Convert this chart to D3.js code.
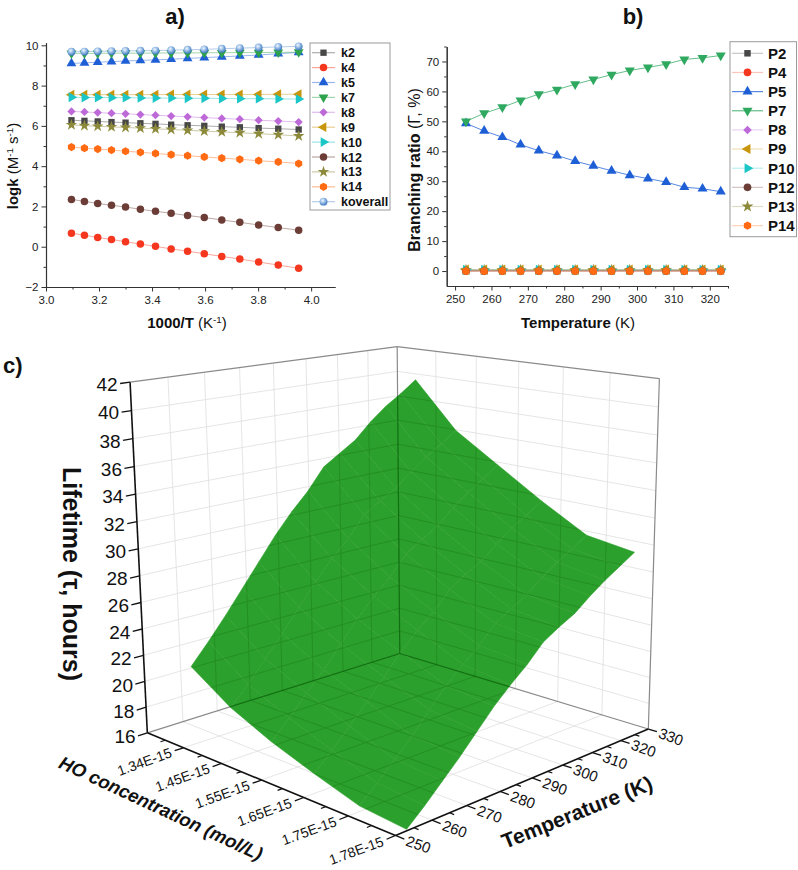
<!DOCTYPE html>
<html>
<head>
<meta charset="utf-8">
<script src="https://cdn.jsdelivr.net/npm/d3@7"></script>
<style>
  body { margin: 0; background: #fff; }
  svg { display: block; font-family: "Liberation Sans", Arial, sans-serif; }
</style>
</head>
<body>
<script>
// ---------- data: panel a (logk vs 1000/T) ----------
const invT = [3.096, 3.145, 3.195, 3.247, 3.300, 3.356, 3.413, 3.472, 3.534, 3.597, 3.663, 3.731, 3.802, 3.876, 3.953];
const k2 = [6.28, 6.25, 6.22, 6.19, 6.16, 6.13, 6.10, 6.06, 6.03, 6.00, 5.96, 5.93, 5.89, 5.86, 5.82];
const k4 = [0.67, 0.57, 0.46, 0.36, 0.25, 0.13, 0.02, -0.11, -0.22, -0.35, -0.48, -0.61, -0.76, -0.91, -1.07];
const k5 = [9.10, 9.13, 9.16, 9.19, 9.22, 9.25, 9.28, 9.31, 9.35, 9.39, 9.43, 9.47, 9.52, 9.58, 9.65];
const k7 = [9.60, 9.60, 9.60, 9.61, 9.61, 9.61, 9.62, 9.62, 9.62, 9.63, 9.63, 9.64, 9.64, 9.65, 9.66];
const k8 = [6.72, 6.69, 6.66, 6.63, 6.60, 6.56, 6.53, 6.49, 6.45, 6.41, 6.37, 6.33, 6.28, 6.24, 6.19];
const k9 = [7.55, 7.55, 7.55, 7.55, 7.55, 7.55, 7.55, 7.56, 7.56, 7.56, 7.56, 7.56, 7.56, 7.57, 7.57];
const k10 = [7.42, 7.41, 7.41, 7.40, 7.40, 7.39, 7.38, 7.38, 7.37, 7.37, 7.36, 7.35, 7.35, 7.34, 7.33];
const k12 = [2.35, 2.25, 2.15, 2.06, 1.97, 1.86, 1.76, 1.66, 1.55, 1.45, 1.33, 1.21, 1.08, 0.95, 0.82];
const k13 = [6.05, 6.01, 5.98, 5.95, 5.92, 5.89, 5.85, 5.82, 5.78, 5.74, 5.70, 5.66, 5.61, 5.56, 5.50];
const k14 = [4.95, 4.89, 4.85, 4.80, 4.74, 4.69, 4.63, 4.57, 4.52, 4.46, 4.40, 4.34, 4.27, 4.21, 4.13];
const koverall = [9.68, 9.69, 9.70, 9.71, 9.72, 9.73, 9.74, 9.76, 9.78, 9.80, 9.83, 9.86, 9.89, 9.92, 9.95];

// ---------- data: panel b (branching ratio vs T) ----------
const tempB = [253, 258, 263, 268, 273, 278, 283, 288, 293, 298, 303, 308, 313, 318, 323];
const P2 = [0.1, 0.1, 0.1, 0.1, 0.1, 0.1, 0.1, 0.1, 0.1, 0.1, 0.1, 0.1, 0.1, 0.1, 0.1];
const P4 = [0, 0, 0, 0, 0, 0, 0, 0, 0, 0, 0, 0, 0, 0, 0];
const P5 = [49.3, 46.8, 44.7, 42.2, 40.2, 38.6, 36.7, 35.1, 33.5, 32.0, 30.9, 29.7, 28.0, 27.5, 26.5];
const P7 = [50.0, 52.7, 54.7, 57.0, 59.1, 60.6, 62.4, 64.0, 65.6, 67.0, 68.0, 69.1, 70.7, 71.2, 72.0];
const P8 = [0.3, 0.3, 0.3, 0.3, 0.3, 0.3, 0.3, 0.3, 0.3, 0.3, 0.3, 0.3, 0.3, 0.3, 0.3];
const P9 = [0.5, 0.5, 0.5, 0.5, 0.5, 0.5, 0.5, 0.5, 0.5, 0.5, 0.5, 0.5, 0.5, 0.5, 0.5];
const P10 = [0.4, 0.4, 0.4, 0.4, 0.4, 0.4, 0.4, 0.4, 0.4, 0.4, 0.4, 0.4, 0.4, 0.4, 0.4];
const P12 = [0, 0, 0, 0, 0, 0, 0, 0, 0, 0, 0, 0, 0, 0, 0];
const P13 = [0.3, 0.3, 0.3, 0.3, 0.3, 0.3, 0.3, 0.3, 0.3, 0.3, 0.3, 0.3, 0.3, 0.3, 0.3];
const P14 = [0, 0, 0, 0, 0, 0, 0, 0, 0, 0, 0, 0, 0, 0, 0];

// ---------- data: panel c (lifetime surface) ----------
const hoLabels = ['1.34E-15', '1.45E-15', '1.55E-15', '1.65E-15', '1.75E-15', '1.78E-15'];
const hoIndex = [1, 2, 3, 4, 5, 6];
const tempC = [253, 258, 263, 268, 273, 278, 283, 288, 293, 298, 303, 308, 313, 318, 323];
const lifetime = [
  [21.9, 23.4, 25.0, 26.7, 28.4, 30.1, 31.6, 32.9, 34.5, 35.3, 36.1, 37.3, 38.3, 39.1, 40.0],
  [19.9, 21.2, 22.7, 24.2, 25.8, 27.4, 28.8, 30.0, 31.5, 32.3, 33.0, 34.0, 34.9, 35.7, 36.5],
  [18.5, 19.8, 21.2, 22.5, 24.0, 25.5, 26.8, 27.9, 29.3, 30.1, 30.8, 31.9, 32.8, 33.6, 34.4],
  [17.4, 18.6, 19.9, 21.2, 22.6, 24.0, 25.2, 26.2, 27.5, 28.3, 28.9, 29.9, 30.8, 31.5, 32.3],
  [16.4, 17.5, 18.7, 19.9, 21.3, 22.6, 23.7, 24.7, 25.9, 26.6, 27.3, 28.2, 29.0, 29.7, 30.4],
  [16.1, 17.2, 18.4, 19.6, 20.9, 22.2, 23.3, 24.3, 25.5, 26.2, 26.8, 27.7, 28.5, 29.2, 29.9]
];

const svg = d3.select('body').append('svg')
  .attr('width', 798)
  .attr('height', 870);

// koverall sphere look
const defs = svg.append('defs');
const grad = defs.append('radialGradient').attr('id', 'ball')
  .attr('cx', '40%').attr('cy', '35%').attr('r', '65%');
grad.append('stop').attr('offset', '0%').attr('stop-color', '#f4f8ff');
grad.append('stop').attr('offset', '45%').attr('stop-color', '#9cc0e8');
grad.append('stop').attr('offset', '100%').attr('stop-color', '#3e78c0');

// custom hexagon marker
const symbolHex = {
  draw(ctx, size) {
    const r = Math.sqrt(size / 2.598);
    for (let i = 0; i < 6; i++) {
      const a = Math.PI / 3 * i + Math.PI / 6;
      const x = r * Math.cos(a), y = r * Math.sin(a);
      if (i) ctx.lineTo(x, y); else ctx.moveTo(x, y);
    }
    ctx.closePath();
  }
};

const shapes = {
  square: { type: d3.symbolSquare, rot: 0, size: 40 },
  circle: { type: d3.symbolCircle, rot: 0, size: 44 },
  up: { type: d3.symbolTriangle, rot: 0, size: 42 },
  down: { type: d3.symbolTriangle, rot: 180, size: 42 },
  diamond: { type: d3.symbolSquare, rot: 45, size: 34 },
  left: { type: d3.symbolTriangle, rot: -90, size: 42 },
  right: { type: d3.symbolTriangle, rot: 90, size: 42 },
  star: { type: d3.symbolStar, rot: 0, size: 42 },
  hex: { type: symbolHex, rot: 0, size: 44 },
  ball: { type: d3.symbolCircle, rot: 0, size: 48 }
};

function marker(g, shape, color, x, y, scale) {
  const s = shapes[shape];
  g.append('path')
    .attr('d', d3.symbol(s.type, s.size * (scale || 1))())
    .attr('transform', `translate(${x},${y}) rotate(${s.rot})`)
    .attr('fill', shape === 'ball' ? 'url(#ball)' : color);
}

function styleAxis(g) {
  g.selectAll('path').attr('stroke', '#333').attr('stroke-width', 1.1);
  g.selectAll('line').attr('stroke', '#333').attr('stroke-width', 1);
  g.selectAll('text').attr('fill', '#222').style('font-size', '11.5px');
}

function drawPanel(cfg) {
  const g = svg.append('g');
  const x = cfg.x, y = cfg.y;

  // minor ticks
  g.append('g').attr('transform', `translate(0,${y.range()[0]})`)
    .call(d3.axisBottom(x).tickValues(cfg.xMinor).tickSize(2.5).tickSizeOuter(0).tickFormat(''))
    .call(styleAxis);
  g.append('g').attr('transform', `translate(${x.range()[0]},0)`)
    .call(d3.axisLeft(y).tickValues(cfg.yMinor).tickSize(2.5).tickSizeOuter(0).tickFormat(''))
    .call(styleAxis);
  // major ticks
  g.append('g').attr('transform', `translate(0,${y.range()[0]})`)
    .call(d3.axisBottom(x).tickValues(cfg.xTicks).tickSize(4.5).tickPadding(4).tickSizeOuter(0).tickFormat(cfg.xFmt))
    .call(styleAxis);
  g.append('g').attr('transform', `translate(${x.range()[0]},0)`)
    .call(d3.axisLeft(y).tickValues(cfg.yTicks).tickSize(4.5).tickPadding(3).tickSizeOuter(0))
    .call(styleAxis);

  // series: lines then markers
  cfg.series.forEach(s => {
    const pts = cfg.xs.map((xv, i) => [x(xv), y(s.values[i])]);
    g.append('path')
      .attr('d', d3.line()(pts))
      .attr('fill', 'none')
      .attr('stroke', s.color)
      .attr('stroke-opacity', s.lineOpacity || 0.45)
      .attr('stroke-width', 1);
  });
  cfg.series.forEach(s => {
    cfg.xs.forEach((xv, i) => marker(g, s.shape, s.color, x(xv), y(s.values[i]), cfg.mScale));
  });

  // legend
  const L = cfg.legend;
  const lg = svg.append('g');
  lg.append('rect')
    .attr('x', L.x).attr('y', L.y).attr('width', L.w).attr('height', L.h)
    .attr('fill', '#fff').attr('stroke', '#9a9a9a').attr('stroke-width', 1);
  cfg.series.forEach((s, i) => {
    const yy = L.y0 + i * L.dy;
    lg.append('line')
      .attr('x1', L.lx1).attr('x2', L.lx2).attr('y1', yy).attr('y2', yy)
      .attr('stroke', s.color).attr('stroke-opacity', s.lineOpacity || 0.45).attr('stroke-width', 1.2);
    marker(lg, s.shape, s.color, (L.lx1 + L.lx2) / 2, yy, cfg.mScale);
    lg.append('text')
      .attr('x', L.tx).attr('y', yy).attr('dy', '0.36em')
      .style('font-size', L.fs + 'px').style('font-weight', 'bold')
      .attr('fill', '#111')
      .text(s.name);
  });
  return g;
}

// ---------- panel a ----------
const xa = d3.scaleLinear().domain([3.0, 4.09]).range([46, 335]);
const ya = d3.scaleLinear().domain([-2, 10.13]).range([287, 42.7]);
drawPanel({
  x: xa, y: ya, xs: invT,
  xTicks: [3.0, 3.2, 3.4, 3.6, 3.8, 4.0], xMinor: [3.1, 3.3, 3.5, 3.7, 3.9],
  xFmt: d3.format('.1f'),
  yTicks: [-2, 0, 2, 4, 6, 8, 10], yMinor: [-1, 1, 3, 5, 7, 9],
  mScale: 1,
  series: [
    { name: 'k2', values: k2, color: '#474747', shape: 'square' },
    { name: 'k4', values: k4, color: '#f5371f', shape: 'circle' },
    { name: 'k5', values: k5, color: '#1f5fd6', shape: 'up' },
    { name: 'k7', values: k7, color: '#2fa34c', shape: 'down' },
    { name: 'k8', values: k8, color: '#bd6ad8', shape: 'diamond' },
    { name: 'k9', values: k9, color: '#c8960c', shape: 'left' },
    { name: 'k10', values: k10, color: '#1cc6c6', shape: 'right' },
    { name: 'k12', values: k12, color: '#6b3d36', shape: 'circle' },
    { name: 'k13', values: k13, color: '#8c8a3a', shape: 'star' },
    { name: 'k14', values: k14, color: '#ff6a13', shape: 'hex' },
    { name: 'koverall', values: koverall, color: '#5a90cf', shape: 'ball' }
  ],
  legend: { x: 310, y: 43, w: 80, h: 167, y0: 52.7, dy: 14.9, lx1: 312, lx2: 335, tx: 341, fs: 12.5 }
});

// ---------- panel b ----------
const xb = d3.scaleLinear().domain([247.7, 325]).range([446.7, 728]);
const yb = d3.scaleLinear().domain([-5, 75]).range([286, 46.5]);
drawPanel({
  x: xb, y: yb, xs: tempB,
  xTicks: d3.range(250, 321, 10), xMinor: d3.range(255, 326, 10),
  xFmt: d3.format('d'),
  yTicks: d3.range(0, 71, 10), yMinor: d3.range(5, 76, 10),
  mScale: 1.05,
  series: [
    { name: 'P2', values: P2, color: '#474747', shape: 'square', lineOpacity: 0.3 },
    { name: 'P4', values: P4, color: '#f5371f', shape: 'circle', lineOpacity: 0.3 },
    { name: 'P5', values: P5, color: '#1f5fd6', shape: 'up', lineOpacity: 0.75 },
    { name: 'P7', values: P7, color: '#2fa860', shape: 'down', lineOpacity: 0.75 },
    { name: 'P8', values: P8, color: '#bd6ad8', shape: 'diamond', lineOpacity: 0.3 },
    { name: 'P9', values: P9, color: '#c8960c', shape: 'left', lineOpacity: 0.3 },
    { name: 'P10', values: P10, color: '#1cc6c6', shape: 'right', lineOpacity: 0.3 },
    { name: 'P12', values: P12, color: '#6b3d36', shape: 'circle', lineOpacity: 0.3 },
    { name: 'P13', values: P13, color: '#8c8a3a', shape: 'star', lineOpacity: 0.3 },
    { name: 'P14', values: P14, color: '#ff6a13', shape: 'hex', lineOpacity: 0.3 }
  ],
  legend: { x: 730, y: 41.7, w: 66.5, h: 195, y0: 53.3, dy: 19.15, lx1: 732, lx2: 763, tx: 768, fs: 15 }
});

// panel titles and axis titles (a, b)
function label(x, y, size, parts, rotate, anchor) {
  const t = svg.append('text')
    .attr('transform', `translate(${x},${y})` + (rotate ? ` rotate(${rotate})` : ''))
    .attr('text-anchor', anchor || 'middle')
    .style('font-size', size + 'px')
    .attr('fill', '#111');
  parts.forEach(p => {
    const ts = t.append('tspan').text(p.t);
    if (p.b) ts.style('font-weight', 'bold');
    if (p.i) ts.style('font-style', 'italic');
    if (p.sup) ts.attr('baseline-shift', 'super').style('font-size', (size * 0.65) + 'px');
  });
  return t;
}
label(175, 24, 22, [{ t: 'a)', b: 1 }]);
label(633, 24, 22, [{ t: 'b)', b: 1 }]);
label(3, 373, 22, [{ t: 'c)', b: 1 }], 0, 'start');
label(187, 328, 15, [{ t: '1000/T', b: 1 }, { t: ' (K' }, { t: '-1', sup: 1 }, { t: ')' }]);
label(18, 166, 15, [{ t: 'logk', b: 1 }, { t: ' (M' }, { t: '-1', sup: 1 }, { t: ' s' }, { t: '-1', sup: 1 }, { t: ')' }], -90);
label(578, 328, 15, [{ t: 'Temperature', b: 1 }, { t: ' (K)' }]);
label(420, 170, 16, [{ t: 'Branching ratio', b: 1 }, { t: ' (Γ, %)' }], -90);

// ---------- panel c: perspective 3D box ----------
// screen anchors of the box corners (u = HO, v = T, w = lifetime, each 0..1)
const boxAnchors = [
  [0, 0, 0, 147, 732.5],
  [1, 0, 0, 396, 835.5],
  [1, 1, 0, 648, 729.3],
  [0, 1, 0, 400, 653.5],
  [0, 0, 1, 130, 382.5],
  [0, 1, 1, 397.3, 346.7],
  [1, 1, 1, 659.3, 378.3]
];

// direct linear transform fit of a 3x4 camera matrix
function solveDLT(pts) {
  const A = [], b = [];
  pts.forEach(([X, Y, Z, x, y]) => {
    A.push([X, Y, Z, 1, 0, 0, 0, 0, -x * X, -x * Y, -x * Z]); b.push(x);
    A.push([0, 0, 0, 0, X, Y, Z, 1, -y * X, -y * Y, -y * Z]); b.push(y);
  });
  const n = 11, M = [];
  for (let i = 0; i < n; i++) {
    const row = [];
    for (let j = 0; j < n; j++) {
      let s = 0;
      for (let r = 0; r < A.length; r++) s += A[r][i] * A[r][j];
      row.push(s);
    }
    let s = 0;
    for (let r = 0; r < A.length; r++) s += A[r][i] * b[r];
    row.push(s);
    M.push(row);
  }
  for (let c = 0; c < n; c++) {
    let p = c;
    for (let r = c + 1; r < n; r++) if (Math.abs(M[r][c]) > Math.abs(M[p][c])) p = r;
    [M[c], M[p]] = [M[p], M[c]];
    for (let r = 0; r < n; r++) {
      if (r === c) continue;
      const f = M[r][c] / M[c][c];
      for (let k = c; k <= n; k++) M[r][k] -= f * M[c][k];
    }
  }
  return M.map((row, i) => row[n] / row[i]);
}
const P = solveDLT(boxAnchors);
function proj(u, v, w) {
  const d = P[8] * u + P[9] * v + P[10] * w + 1;
  return [(P[0] * u + P[1] * v + P[2] * w + P[3]) / d, (P[4] * u + P[5] * v + P[6] * w + P[7]) / d, d];
}

const su = d3.scaleLinear().domain([0, 6]).range([0, 1]);
const sv = d3.scaleLinear().domain([250, 330]).range([0, 1]);
const sw = d3.scaleLinear().domain([16, 42]).range([0, 1]);
const zTicks = d3.range(16, 43, 2);
const tTicks = d3.range(250, 331, 10);

const gc = svg.append('g');

function seg(g, a, b, color, width) {
  const p = proj(...a), q = proj(...b);
  return g.append('line')
    .attr('x1', p[0]).attr('y1', p[1]).attr('x2', q[0]).attr('y2', q[1])
    .attr('stroke', color).attr('stroke-width', width);
}

function gridLines(g, color, width) {
  tTicks.slice(1, -1).forEach(t => {
    seg(g, [0, sv(t), 0], [0, sv(t), 1], color, width);
    seg(g, [0, sv(t), 0], [1, sv(t), 0], color, width);
  });
  hoIndex.slice(0, -1).forEach(i => {
    seg(g, [su(i), 1, 0], [su(i), 1, 1], color, width);
    seg(g, [su(i), 0, 0], [su(i), 1, 0], color, width);
  });
  zTicks.slice(1, -1).forEach(z => {
    seg(g, [0, 0, sw(z)], [0, 1, sw(z)], color, width);
    seg(g, [0, 1, sw(z)], [1, 1, sw(z)], color, width);
  });
}
function backEdges(g, color, width) {
  seg(g, [0, 0, 1], [0, 1, 1], color, width);
  seg(g, [0, 1, 1], [1, 1, 1], color, width);
  seg(g, [0, 1, 0], [0, 1, 1], color, width);
  seg(g, [1, 1, 0], [1, 1, 1], color, width);
  seg(g, [0, 0, 0], [0, 1, 0], color, width);
  seg(g, [0, 1, 0], [1, 1, 0], color, width);
}

gridLines(gc.append('g'), '#dedede', 0.8);
backEdges(gc.append('g'), '#8a8a8a', 1.2);

// surface quads, far to near
const quads = [];
for (let i = 0; i < hoIndex.length - 1; i++) {
  for (let j = 0; j < tempC.length - 1; j++) {
    const c = [[i, j], [i + 1, j], [i + 1, j + 1], [i, j + 1]]
      .map(([a, b]) => proj(su(hoIndex[a]), sv(tempC[b]), sw(lifetime[a][b])));
    quads.push({ pts: c.map(p => [p[0], p[1]]), d: d3.mean(c, p => p[2]) });
  }
}
const farSign = proj(0, 1, 0)[2] > proj(1, 0, 0)[2] ? 1 : -1;
quads.sort((a, b) => farSign * (b.d - a.d));
const quadPath = q => 'M' + q.pts.map(p => p.join(',')).join('L') + 'Z';

const clip = defs.append('clipPath').attr('id', 'surfClip');
quads.forEach(q => clip.append('path').attr('d', quadPath(q)));

const surf = gc.append('g').attr('opacity', 0.88);
quads.forEach(q => {
  surf.append('path')
    .attr('d', quadPath(q))
    .attr('fill', 'rgb(15,147,15)')
    .attr('stroke', 'rgb(15,147,15)')
    .attr('stroke-width', 0.6)
    .attr('stroke-linejoin', 'round');
});
// grid seen through the translucent surface
const seen = gc.append('g').attr('clip-path', 'url(#surfClip)');
gridLines(seen.append('g').attr('opacity', 0.18), '#0b4f0b', 0.9);
backEdges(seen.append('g').attr('opacity', 0.5), '#0b4f0b', 1.2);

// front axes
const ax = gc.append('g');
seg(ax, [0, 0, 0], [0, 0, 1], '#111', 1.6);
seg(ax, [0, 0, 0], [1, 0, 0], '#111', 1.6);
seg(ax, [1, 0, 0], [1, 1, 0], '#111', 1.6);

// lifetime axis
zTicks.forEach(z => {
  seg(ax, [0, 0, sw(z)], [0, -0.032, sw(z)], '#111', 1.3);
  const p = proj(0, -0.04, sw(z));
  ax.append('text')
    .attr('x', p[0]).attr('y', p[1]).attr('dy', '0.36em')
    .attr('text-anchor', 'end')
    .style('font-size', '19px').attr('fill', '#111')
    .text(z);
});
// HO axis
hoIndex.forEach(i => {
  if (i > 0) seg(ax, [su(i - 0.5), 0, 0], [su(i - 0.5), -0.016, 0], '#111', 1.2);
  seg(ax, [su(i), 0, 0], [su(i), -0.03, 0], '#111', 1.3);
});
hoLabels.forEach((lab, k) => {
  const p = proj(su(hoIndex[k]), -0.042, 0);
  ax.append('text')
    .attr('transform', `translate(${p[0]},${p[1]}) rotate(-20)`)
    .attr('dy', '0.36em')
    .attr('text-anchor', 'end')
    .style('font-size', '14px').attr('fill', '#111')
    .text(lab);
});
// temperature axis
d3.range(255, 331, 10).forEach(t => seg(ax, [1, sv(t), 0], [1.016, sv(t), 0], '#111', 1.2));
tTicks.forEach(t => {
  seg(ax, [1, sv(t), 0], [1.03, sv(t), 0], '#111', 1.3);
  const p = proj(1.038, sv(t), 0);
  ax.append('text')
    .attr('transform', `translate(${p[0]},${p[1]}) rotate(20)`)
    .attr('dy', '0.36em')
    .style('font-size', '15px').attr('fill', '#111')
    .text(t);
});

// 3D axis titles
label(72, 574, 25, [{ t: 'Lifetime (τ, hours)', b: 1 }], 90).attr('dy', '0.36em');
label(161, 808, 18.5, [{ t: 'HO concentration (mol/L)', b: 1, i: 1 }], 25).attr('dy', '0.36em');
label(577, 812, 21, [{ t: 'Temperature (K)', b: 1 }], -22).attr('dy', '0.36em');
</script>
</body>
</html>
